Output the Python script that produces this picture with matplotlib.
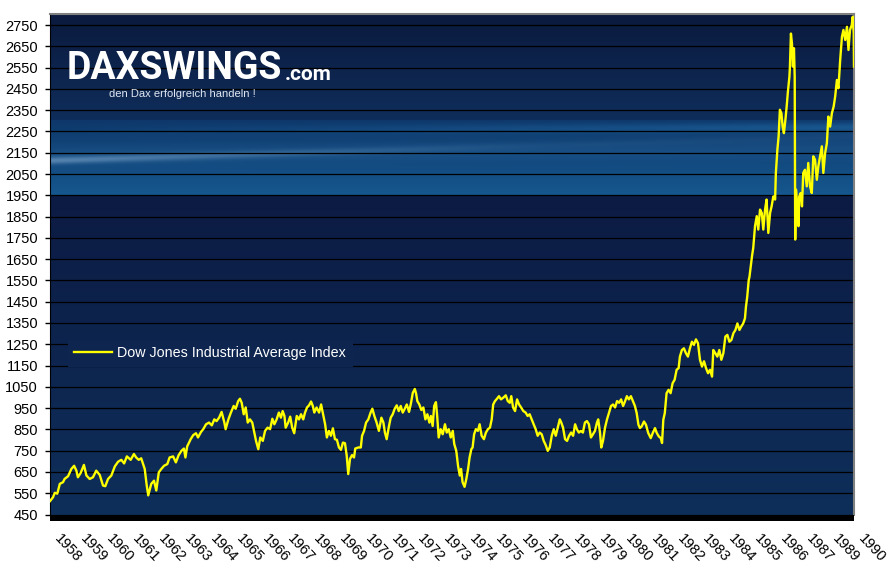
import matplotlib
matplotlib.use('Agg')
import matplotlib.pyplot as plt
import matplotlib.transforms as mtransforms
from matplotlib.patches import Rectangle
import numpy as np

plt.rcParams['font.family'] = ['Liberation Sans', 'DejaVu Sans']

# Dow Jones Industrial Average (fractional year, index level)
dates = [
    1958.00, 1958.12, 1958.19, 1958.29, 1958.39, 1958.52, 1958.58, 1958.72, 1958.85, 1958.96,
    1959.05, 1959.11, 1959.22, 1959.35, 1959.45, 1959.58, 1959.71, 1959.84, 1959.98, 1960.11,
    1960.20, 1960.31, 1960.44, 1960.58, 1960.71, 1960.84, 1960.95, 1961.06, 1961.21, 1961.34,
    1961.43, 1961.53, 1961.63, 1961.77, 1961.85, 1961.91, 1962.03, 1962.14, 1962.23, 1962.33,
    1962.43, 1962.54, 1962.67, 1962.76, 1962.90, 1963.01, 1963.12, 1963.23, 1963.33, 1963.39,
    1963.46, 1963.60, 1963.70, 1963.81, 1963.89, 1964.01, 1964.10, 1964.21, 1964.33, 1964.44,
    1964.54, 1964.63, 1964.73, 1964.83, 1964.94, 1964.99, 1965.10, 1965.20, 1965.31, 1965.39,
    1965.49, 1965.56, 1965.63, 1965.71, 1965.79, 1965.87, 1965.96, 1966.05, 1966.13, 1966.20,
    1966.29, 1966.37, 1966.47, 1966.56, 1966.66, 1966.76, 1966.85, 1966.93, 1967.02, 1967.11,
    1967.19, 1967.26, 1967.33, 1967.38, 1967.48, 1967.56, 1967.64, 1967.72, 1967.82, 1967.91,
    1967.99, 1968.08, 1968.15, 1968.23, 1968.31, 1968.39, 1968.46, 1968.52, 1968.61, 1968.71,
    1968.79, 1968.87, 1968.95, 1969.02, 1969.10, 1969.18, 1969.26, 1969.34, 1969.42, 1969.50,
    1969.58, 1969.66, 1969.74, 1969.81, 1969.87, 1969.94, 1970.02, 1970.10, 1970.15, 1970.27,
    1970.37, 1970.42, 1970.50, 1970.58, 1970.67, 1970.76, 1970.83, 1970.91, 1971.00, 1971.09,
    1971.19, 1971.27, 1971.33, 1971.40, 1971.48, 1971.56, 1971.64, 1971.72, 1971.80, 1971.88,
    1971.96, 1972.04, 1972.12, 1972.20, 1972.29, 1972.37, 1972.44, 1972.52, 1972.57, 1972.62,
    1972.70, 1972.78, 1972.86, 1972.94, 1973.02, 1973.10, 1973.16, 1973.23, 1973.29, 1973.36,
    1973.41, 1973.47, 1973.55, 1973.63, 1973.72, 1973.79, 1973.87, 1973.95, 1974.03, 1974.09,
    1974.17, 1974.24, 1974.31, 1974.36, 1974.42, 1974.50, 1974.57, 1974.64, 1974.70, 1974.77,
    1974.82, 1974.88, 1974.95, 1975.03, 1975.10, 1975.18, 1975.27, 1975.35, 1975.43, 1975.51,
    1975.58, 1975.64, 1975.71, 1975.79, 1975.87, 1975.95, 1976.04, 1976.14, 1976.22, 1976.30,
    1976.36, 1976.43, 1976.51, 1976.59, 1976.67, 1976.75, 1976.84, 1976.93, 1977.01, 1977.09,
    1977.17, 1977.25, 1977.33, 1977.41, 1977.49, 1977.57, 1977.65, 1977.73, 1977.81, 1977.89,
    1977.97, 1978.05, 1978.13, 1978.21, 1978.29, 1978.35, 1978.42, 1978.50, 1978.58, 1978.66,
    1978.74, 1978.82, 1978.90, 1978.97, 1979.05, 1979.13, 1979.21, 1979.29, 1979.37, 1979.45,
    1979.53, 1979.61, 1979.69, 1979.77, 1979.82, 1979.89, 1979.94, 1980.01, 1980.09, 1980.17,
    1980.25, 1980.33, 1980.41, 1980.49, 1980.57, 1980.65, 1980.73, 1980.81, 1980.89, 1980.96,
    1981.04, 1981.12, 1981.20, 1981.28, 1981.35, 1981.42, 1981.48, 1981.55, 1981.64, 1981.72,
    1981.81, 1981.91, 1981.99, 1982.08, 1982.15, 1982.23, 1982.31, 1982.36, 1982.41, 1982.47,
    1982.54, 1982.62, 1982.70, 1982.78, 1982.86, 1982.94, 1983.02, 1983.07, 1983.15, 1983.23,
    1983.31, 1983.39, 1983.47, 1983.55, 1983.63, 1983.71, 1983.79, 1983.87, 1983.95, 1984.03,
    1984.11, 1984.19, 1984.27, 1984.35, 1984.40, 1984.48, 1984.56, 1984.64, 1984.72, 1984.80,
    1984.88, 1984.96, 1985.04, 1985.12, 1985.20, 1985.28, 1985.36, 1985.44, 1985.51, 1985.59,
    1985.66, 1985.70, 1985.75, 1985.81, 1985.84, 1985.94, 1985.99, 1986.06, 1986.13, 1986.19,
    1986.26, 1986.33, 1986.39, 1986.46, 1986.52, 1986.59, 1986.66, 1986.72, 1986.79, 1986.86,
    1986.89, 1986.95, 1987.00, 1987.05, 1987.11, 1987.16, 1987.21, 1987.27, 1987.32, 1987.37,
    1987.43, 1987.45, 1987.49, 1987.53, 1987.57, 1987.61, 1987.64, 1987.66, 1987.69, 1987.75,
    1987.79, 1987.82, 1987.88, 1987.93, 1987.98, 1988.05, 1988.12, 1988.18, 1988.25, 1988.32,
    1988.38, 1988.45, 1988.52, 1988.58, 1988.65, 1988.72, 1988.78, 1988.85, 1988.92, 1988.98,
    1989.05, 1989.12, 1989.19, 1989.25, 1989.32, 1989.38, 1989.45, 1989.52, 1989.58, 1989.65,
    1989.72, 1989.78, 1989.84, 1989.91, 1989.95, 1989.99, 1990.00,
]
dow = [
    513, 531, 552, 548, 594, 602, 617, 630, 664, 679,
    656, 625, 645, 683, 633, 617, 625, 656, 636, 586,
    583, 617, 633, 676, 698, 707, 690, 723, 707, 734,
    718, 707, 714, 664, 586, 540, 594, 609, 563, 648,
    664, 679, 687, 718, 723, 695, 729, 749, 760, 718,
    770, 804, 823, 832, 812, 838, 851, 874, 882, 869,
    897, 889, 905, 932, 882, 851, 897, 929, 960, 947,
    983, 994, 975, 921, 953, 882, 897, 882, 835, 796,
    757, 812, 796, 843, 858, 851, 900, 874, 897, 929,
    905, 936, 913, 858, 882, 910, 858, 832, 913, 897,
    921, 897, 929, 953, 963, 981, 960, 929, 953, 929,
    967, 921, 874, 812, 843, 820, 855, 804, 801, 765,
    754, 788, 785, 726, 640, 711, 729, 718, 760, 765,
    765, 820, 843, 882, 897, 929, 947, 913, 882, 843,
    905, 882, 835, 804, 858, 905, 921, 947, 963, 936,
    960, 929, 947, 967, 932, 975, 1022, 1040, 1019, 983,
    967, 941, 953, 897, 921, 882, 913, 866, 960, 978,
    913, 812, 851, 827, 874, 835, 851, 812, 843, 781,
    749, 679, 633, 664, 602, 580, 617, 664, 718, 757,
    765, 827, 851, 843, 874, 820, 804, 835, 851, 858,
    897, 967, 983, 994, 1006, 991, 999, 1010, 983, 975,
    1006, 953, 936, 991, 967, 953, 936, 929, 913, 921,
    897, 874, 851, 820, 835, 827, 796, 776, 749, 765,
    820, 851, 820, 858, 897, 882, 858, 804, 796, 820,
    835, 820, 874, 851, 835, 843, 835, 882, 889, 874,
    812, 827, 843, 882, 897, 835, 765, 796, 858, 897,
    929, 960, 967, 953, 983, 975, 991, 960, 983, 1006,
    991, 1006, 983, 960, 927, 872, 856, 864, 887, 872,
    833, 809, 833, 856, 833, 817, 809, 786, 895, 927,
    1020, 1036, 1020, 1067, 1083, 1130, 1138, 1192, 1223, 1231,
    1208, 1192, 1231, 1262, 1247, 1273, 1255, 1177, 1145, 1170,
    1138, 1114, 1130, 1098, 1223, 1208, 1192, 1223, 1177, 1208,
    1286, 1294, 1262, 1270, 1302, 1317, 1348, 1317, 1333, 1348,
    1372, 1427, 1473, 1552, 1567, 1664, 1703, 1805, 1852, 1789,
    1883, 1867, 1789, 1883, 1930, 1773, 1867, 1898, 1945, 1930,
    2055, 2164, 2227, 2352, 2336, 2273, 2242, 2305, 2367, 2438,
    2508, 2555, 2710, 2664, 2555, 2641, 2508, 1742, 1977, 1898,
    1805, 1945, 1961, 1898, 2055, 2070, 1992, 2102, 1992, 1961,
    2133, 2117, 2023, 2086, 2133, 2180, 2055, 2148, 2195, 2320,
    2273, 2336, 2367, 2414, 2492, 2453, 2586, 2695, 2727, 2680,
    2742, 2633, 2727, 2750, 2789, 2711, 2555,
]
year_labels = [str(y) for y in range(1958, 1988)] + ['1989', '1990']
y_ticks = list(range(450, 2751, 100))
series_name = 'Dow Jones Industrial Average Index'

X_MIN, X_MAX = 1958, 1990
Y_MIN, Y_MAX = 450, 2802


def hex_rgb(h):
    return np.array([int(h[i:i + 2], 16) / 255 for i in (1, 3, 5)])


def make_background(rows=501, cols=402):
    # rows run from the top of the plot down, about one screen pixel each
    img = np.zeros((rows, cols, 3))
    for r in range(rows):
        if r < 106:
            t = r / 105
            a, b = hex_rgb('#0b1a3e'), hex_rgb('#0f2d5a')
        elif r < 181:
            t = (r - 106) / 74
            a, b = hex_rgb('#0e386b'), hex_rgb('#15578e')
        else:
            t = (r - 181) / 319
            a, b = hex_rgb('#0c1b43'), hex_rgb('#0e2f5a')
        img[r, :, :] = a * (1 - t) + b * t
    # light swoosh in the banner strip
    rr = np.arange(rows)[:, None]
    xx = np.linspace(0, 1, cols)[None, :]
    band = (rr >= 106) & (rr < 181)
    streaks = [
        (146 - 24 * xx, 2.5, 0.55 * np.clip(1 - 1.6 * xx, 0, 1) ** 1.3 + 0.05, '#8aaed0'),
        (116 - 3 * xx, 3.5, 0.45 * xx, '#2478b6'),
        (140 - 6 * xx, 7.0, 0.18 + 0 * xx, '#3575ab'),
    ]
    for center, sigma, alpha, color in streaks:
        a = alpha * np.exp(-0.5 * ((rr - center) / sigma) ** 2) * band
        img = img * (1 - a[..., None]) + hex_rgb(color) * a[..., None]
    return img


fig = plt.figure(figsize=(8.9, 5.77), dpi=100)
ax = fig.add_axes([50 / 890, 1 - 514.5 / 577, 804 / 890, 500.5 / 577])

ax.imshow(make_background(), extent=[X_MIN, X_MAX, Y_MIN, Y_MAX], aspect='auto',
          interpolation='bilinear', zorder=0)
ax.set_axisbelow(True)
ax.yaxis.grid(True, color='black', linewidth=0.9)

ax.plot(dates, dow, color='#ffff00', linewidth=1.7, label=series_name, zorder=3)

ax.set_xlim(X_MIN, X_MAX)
ax.set_ylim(Y_MIN, Y_MAX)

ax.set_yticks(y_ticks)
ax.tick_params(axis='y', length=3.6, width=1, color='black', pad=5, labelsize=10.5,
               labelcolor='black')

ax.set_xticks(np.linspace(X_MIN, X_MAX, len(year_labels)))
ax.set_xticklabels(year_labels, rotation=-47, ha='left', va='top', rotation_mode='anchor',
                   fontsize=10.5)
ax.tick_params(axis='x', length=0, pad=12.5)
shift = mtransforms.ScaledTranslation(12 / 100, 0, fig.dpi_scale_trans)
for lab in ax.get_xticklabels():
    lab.set_transform(lab.get_transform() + shift)

for side in ('top', 'right'):
    ax.spines[side].set_color('#808080')
    ax.spines[side].set_linewidth(1.5)
ax.spines['left'].set_color('black')
ax.spines['bottom'].set_visible(False)
ax.add_patch(Rectangle((0, -0.013), 1, 0.013, transform=ax.transAxes, facecolor='black',
                       edgecolor='none', clip_on=False, zorder=5))

leg = ax.legend(loc='upper left', bbox_to_anchor=(0.0224, 0.3487), borderaxespad=0,
                fontsize=10.3, frameon=True, fancybox=False, framealpha=1,
                facecolor='#0d254f', edgecolor='none', handlelength=2.65,
                handletextpad=0.35, borderpad=0.45, labelcolor='white')

# site logo
logo_font = ['Roboto', 'Liberation Sans']
fig.text(67 / 890, 1 - 79 / 577, 'DAXSWINGS', color='white', fontsize=27, fontweight='bold',
         family=logo_font, va='baseline', ha='left')
fig.text(285 / 890, 1 - 80 / 577, '.com', color='white', fontsize=15, fontweight='bold',
         family=logo_font, va='baseline', ha='left')
fig.text(109 / 890, 1 - 97 / 577, 'den Dax erfolgreich handeln !', color='#dfe6f1',
         fontsize=8, va='baseline', ha='left')

fig.savefig('out.png', dpi=100)
